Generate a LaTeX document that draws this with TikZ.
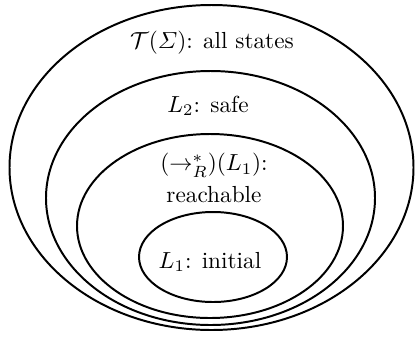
\documentclass[tikz,border=0pt]{standalone}
\usepackage{amsmath}
\usetikzlibrary{positioning}

\begin{document}
\begin{tikzpicture}[x=0.43pt,y=0.43pt,line width=0.85pt]
  \useasboundingbox (0,0) rectangle (415,337);
  \draw (211.5,169.5) ellipse [x radius=202,y radius=162.5];
  \draw (210.5,139) ellipse [x radius=164.5,y radius=127];
  \draw (210,111) ellipse [x radius=133,y radius=92];
  \draw (213,80) ellipse [x radius=74,y radius=45];
  \node (all) at (212,294) {$\mathcal{T}(\varSigma)$: all states};
  \node (safe) at (208,231) {$L_2$: safe};
  \node[align=center] (reach) at (214,159)
    {$(\to^*_R)(L_1)$:\\[1.5pt]reachable};
  \node (init) at (210,75) {$L_1$: initial};
\end{tikzpicture}
\end{document}
